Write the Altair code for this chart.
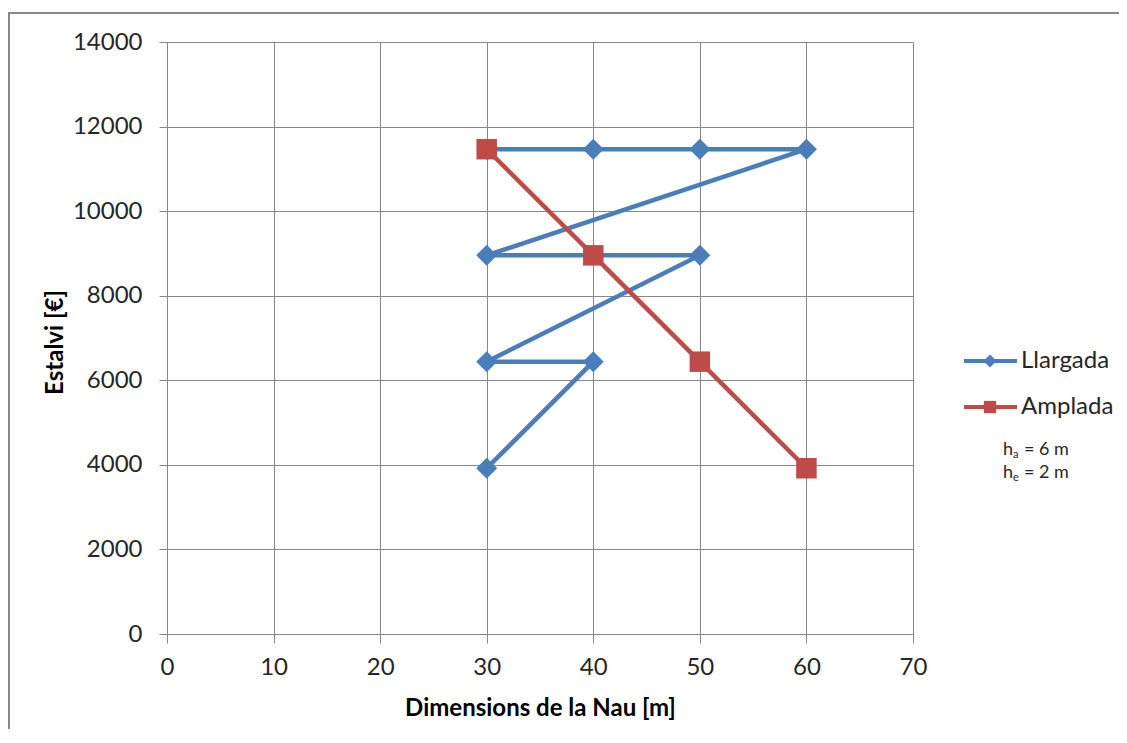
import altair as alt
import pandas as pd

# ---- data ----
llargada_x = [30, 40, 30, 50, 40, 30, 60, 50, 40, 30]
llargada_y = [3920, 6440, 6440, 8955, 8955, 8955, 11465, 11465, 11465, 11465]
amplada_x = [30, 40, 50, 60]
amplada_y = [11465, 8955, 6440, 3920]
series_names = ["Llargada", "Amplada"]
series_colors = ["#4A7EBB", "#BE4B48"]
x_ticks = [0, 10, 20, 30, 40, 50, 60, 70]
y_ticks = [0, 2000, 4000, 6000, 8000, 10000, 12000, 14000]
notes = [("h", "a", "= 6 m"), ("h", "e", "= 2 m")]

FONT = "Lato"
GRID = "#878787"

rows = []
for i, (x, y) in enumerate(zip(llargada_x, llargada_y)):
    rows.append({"series": series_names[0], "x": x, "y": y, "idx": i})
for i, (x, y) in enumerate(zip(amplada_x, amplada_y)):
    rows.append({"series": series_names[1], "x": x, "y": y, "idx": i})
df = pd.DataFrame(rows)

xs = alt.Scale(domain=[0, 70], nice=False, zero=True)
ys = alt.Scale(domain=[0, 14000], nice=False)
cs = alt.Scale(domain=series_names, range=series_colors)

xaxis = alt.Axis(values=x_ticks, title="Dimensions de la Nau [m]", grid=True,
                 tickSize=9, labelPadding=12, labelFontSize=24, format="d",
                 labelFlush=False,
                 titleFontSize=24, titleFontWeight="bold", titleBaseline="alphabetic",
                 titleY=81, titleX=373)
yaxis = alt.Axis(values=y_ticks, title="Estalvi [€]", grid=True, format="d",
                 tickSize=8, labelPadding=17, labelFontSize=24, labelFlush=False,
                 titleFontSize=24, titleFontWeight="bold",
                 titleX=-100, titleY=300, titleAngle=-90)


def series_layer(name, shape, size):
    d = df[df["series"] == name]
    base = alt.Chart(d).encode(
        x=alt.X("x:Q", scale=xs, axis=xaxis),
        y=alt.Y("y:Q", scale=ys, axis=yaxis),
        color=alt.Color("series:N", scale=cs, legend=None),
        order=alt.Order("idx:Q"),
    )
    line = base.mark_line(strokeWidth=4.5)
    pts = base.mark_point(shape=shape, size=size, filled=True, opacity=1)
    return [line, pts]


layers = []
layers += series_layer("Llargada", "diamond", 440)
layers += series_layer("Amplada", "square", 420)

# ---- manual legend (line + marker + label) ----
one = pd.DataFrame({"k": [0]})
leg_y = [319, 365]
leg_shapes = ["diamond", "square"]
leg_sizes = [170, 150]
for name, col, ly, shp, sz in zip(series_names, series_colors, leg_y, leg_shapes, leg_sizes):
    layers.append(alt.Chart(one).mark_rule(color=col, strokeWidth=4).encode(
        x=alt.value(797), x2=alt.value(850), y=alt.value(ly)))
    layers.append(alt.Chart(one).mark_point(shape=shp, size=sz, filled=True, opacity=1,
                                            color=col).encode(
        x=alt.value(823), y=alt.value(ly)))
    layers.append(alt.Chart(pd.DataFrame({"t": [name]})).mark_text(
        align="left", baseline="alphabetic", font=FONT, fontSize=24, color="#262626").encode(
        x=alt.value(854), y=alt.value(ly + 7), text="t:N"))

# ---- annotation h_a / h_e ----
for (h, sub, rest), by in zip(notes, [413, 436]):
    layers.append(alt.Chart(pd.DataFrame({"t": [h]})).mark_text(
        align="left", baseline="alphabetic", font=FONT, fontSize=18, color="#262626").encode(
        x=alt.value(836), y=alt.value(by), text="t:N"))
    layers.append(alt.Chart(pd.DataFrame({"t": [sub]})).mark_text(
        align="left", baseline="alphabetic", font=FONT, fontSize=11, color="#262626").encode(
        x=alt.value(846), y=alt.value(by + 3), text="t:N"))
    layers.append(alt.Chart(pd.DataFrame({"t": [rest]})).mark_text(
        align="left", baseline="alphabetic", font=FONT, fontSize=18, color="#262626").encode(
        x=alt.value(857), y=alt.value(by), text="t:N"))

# ---- outer frame (top and left edges) ----
layers.append(alt.Chart(one).mark_rule(color="#888888", strokeWidth=2).encode(
    x=alt.value(-160), x2=alt.value(1100), y=alt.value(-29)))
layers.append(alt.Chart(one).mark_rule(color="#888888", strokeWidth=2).encode(
    x=alt.value(-158), y=alt.value(-29), y2=alt.value(720)))

chart = alt.layer(*layers).properties(
    width=746, height=592,
    autosize=alt.AutoSizeParams(type="none"),
    padding={"left": 159, "top": 34, "right": 206, "bottom": 95},
    background="white",
).configure_view(stroke=None).configure_axis(
    gridColor=GRID, gridWidth=1, domainColor=GRID, tickColor=GRID,
    labelFont=FONT, titleFont=FONT, labelColor="#262626", titleColor="#000000",
).configure_axisX(labelBaseline="top")

chart.save("out.html", embed_options={"renderer": "svg", "actions": False})
